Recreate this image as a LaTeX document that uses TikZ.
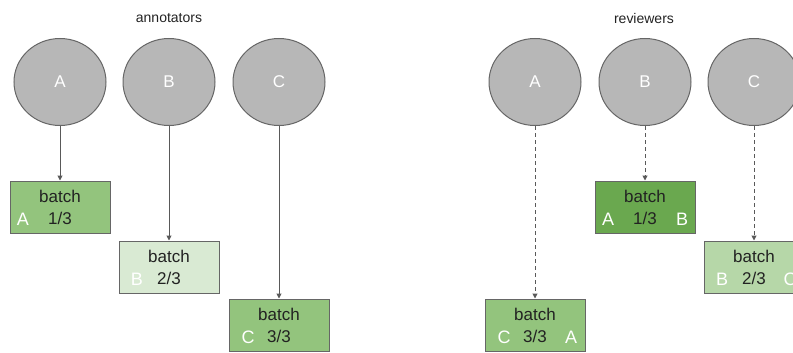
\documentclass[tikz,border=0pt]{standalone}
\usepackage{fontspec}
\setmainfont{Liberation Sans}
\usetikzlibrary{shapes.geometric,arrows.meta}
\definecolor{ring}{HTML}{666666}
\definecolor{disc}{HTML}{B7B7B7}
\definecolor{wire}{HTML}{595959}
\definecolor{ink}{HTML}{222222}
\definecolor{batchmid}{HTML}{93C47D}
\definecolor{batchpale}{HTML}{D9EAD3}
\definecolor{batchdark}{HTML}{6AA84F}
\definecolor{batchsoft}{HTML}{B6D7A8}
\tikzset{
  person/.style={ellipse,draw=ring,fill=disc,line width=1pt,minimum width=92pt,minimum height=87pt,
    text=white,font=\fontsize{17}{20}\selectfont},
  batchbox/.style={rectangle,draw=ring,line width=1pt,minimum width=100pt,minimum height=52pt,
    align=center,text=ink,font=\fontsize{17}{22}\selectfont,inner sep=0pt},
  who/.style={text=white,font=\fontsize{18}{20}\selectfont,inner sep=0pt},
  group/.style={text=ink,font=\fontsize{14}{16}\selectfont},
  link/.style={draw=wire,line width=1pt,-{Triangle[length=5pt,width=5pt]}},
  check/.style={link,dash pattern=on 4pt off 3pt}
}
\begin{document}
\begin{tikzpicture}[x=1pt,y=-1pt]
        \useasboundingbox (0,0) rectangle (793,353);
        \clip (0,0) rectangle (793,353);

        \path
        (169,18) node[group] (anntitle) {annotators}
        (60,82) node[person] (annA) {A}
        (169,82) node[person] (annB) {B}
        (279,82) node[person] (annC) {C}
        ;

        \path
        (60,207) node[batchbox,fill=batchmid] (annbatch1) {batch\\1/3}
        (169,267) node[batchbox,fill=batchpale] (annbatch2) {batch\\2/3}
        (279,325) node[batchbox,fill=batchmid] (annbatch3) {batch\\3/3}
        ;
        \node[who] at ([xshift=-37pt,yshift=-12pt]annbatch1.center) {A};
        \node[who] at ([xshift=-32pt,yshift=-12pt]annbatch2.center) {B};
        \node[who] at ([xshift=-31pt,yshift=-12pt]annbatch3.center) {C};

        \draw[link] (annA) -- (annbatch1);
        \draw[link] (annB) -- (annbatch2);
        \draw[link] (annC) -- (annbatch3);

        \path
        (644,18) node[group] (revtitle) {reviewers}
        (535,82) node[person] (revA) {A}
        (645,82) node[person] (revB) {B}
        (754,82) node[person] (revC) {C}
        ;

        \path
        (645,207) node[batchbox,fill=batchdark] (revbatch1) {batch\\1/3}
        (754,267) node[batchbox,fill=batchsoft] (revbatch2) {batch\\2/3}
        (535,325) node[batchbox,fill=batchmid] (revbatch3) {batch\\3/3}
        ;
        \node[who] at ([xshift=-37pt,yshift=-12pt]revbatch1.center) {A};
        \node[who] at ([xshift=37pt,yshift=-12pt]revbatch1.center) {B};
        \node[who] at ([xshift=-32pt,yshift=-12pt]revbatch2.center) {B};
        \node[who] at ([xshift=36pt,yshift=-12pt]revbatch2.center) {C};
        \node[who] at ([xshift=-31pt,yshift=-12pt]revbatch3.center) {C};
        \node[who] at ([xshift=36pt,yshift=-12pt]revbatch3.center) {A};

        \draw[check] (revA) -- (revbatch3);
        \draw[check] (revB) -- (revbatch1);
        \draw[check] (revC) -- (revbatch2);
      \end{tikzpicture}
\end{document}
